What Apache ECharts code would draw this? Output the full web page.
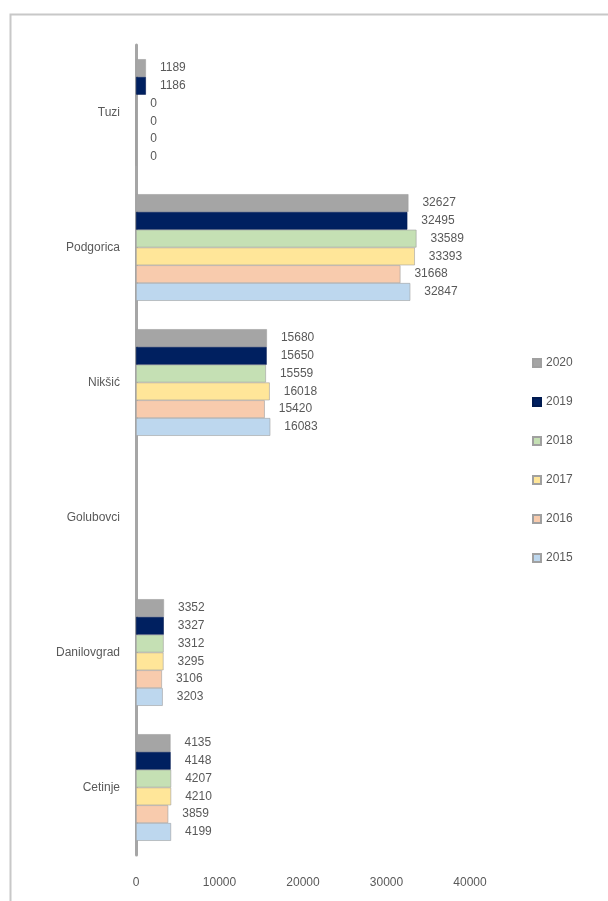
<!DOCTYPE html>
<html><head><meta charset="utf-8">
<script src="https://cdn.jsdelivr.net/npm/echarts@6/dist/echarts.min.js"></script>
<style>html,body{margin:0;padding:0;background:#fff}#c{width:608px;height:901px}</style>
</head><body><div id="c"></div>
<script>
// bottom-to-top category order
const categories = ['Cetinje', 'Danilovgrad', 'Golubovci', 'Nikšić', 'Podgorica', 'Tuzi'];
const years = ['2020', '2019', '2018', '2017', '2016', '2015'];
const v2020 = [4135, 3352, null, 15680, 32627, 1189];
const v2019 = [4148, 3327, null, 15650, 32495, 1186];
const v2018 = [4207, 3312, null, 15559, 33589, 0];
const v2017 = [4210, 3295, null, 16018, 33393, 0];
const v2016 = [3859, 3106, null, 15420, 31668, 0];
const v2015 = [4199, 3203, null, 16083, 32847, 0];
const xTicks = [0, 10000, 20000, 30000, 40000];
const colors = ['#a5a5a5', '#002060', '#c5e0b4', '#ffe699', '#f8cbad', '#bdd7ee'];
const values = [v2020, v2019, v2018, v2017, v2016, v2015];

const chart = echarts.init(document.getElementById('c'));
chart.setOption({
  animation: false,
  textStyle: {fontFamily: 'Liberation Sans'},
  graphic: [{type: 'rect', left: 8, top: 12, shape: {width: 700, height: 1000},
    style: {fill: 'none', stroke: '#c8c8c8', lineWidth: 2}, silent: true}],
  grid: {left: 136, right: 138, top: 45, bottom: 46},
  legend: {
    orient: 'vertical', left: 527, top: 352, itemWidth: 8, itemHeight: 8, itemGap: 27,
    data: years,
    textStyle: {fontSize: 12, color: '#595959'},
    icon: 'rect'
  },
  xAxis: {
    type: 'value', min: xTicks[0], max: xTicks[xTicks.length - 1], interval: 10000,
    splitLine: {show: false}, axisLine: {show: false}, axisTick: {show: false},
    axisLabel: {color: '#595959', fontSize: 12, margin: 22, formatter: v => String(v)}
  },
  yAxis: {
    type: 'category', data: categories,
    axisLine: {lineStyle: {color: '#a6a6a6', width: 3}},
    axisTick: {show: false},
    axisLabel: {color: '#595959', fontSize: 12, margin: 16}
  },
  series: years.map((y, i) => ({
    name: y, type: 'bar', data: values[i],
    barGap: '0%', barCategoryGap: '21%',
    itemStyle: {color: colors[i], borderColor: i === 1 ? '#001a50' : '#a0a0a0', borderWidth: 0.6},
    label: {show: true, position: 'right', distance: 14, color: '#595959', fontSize: 12}
  }))
});
</script></body></html>
